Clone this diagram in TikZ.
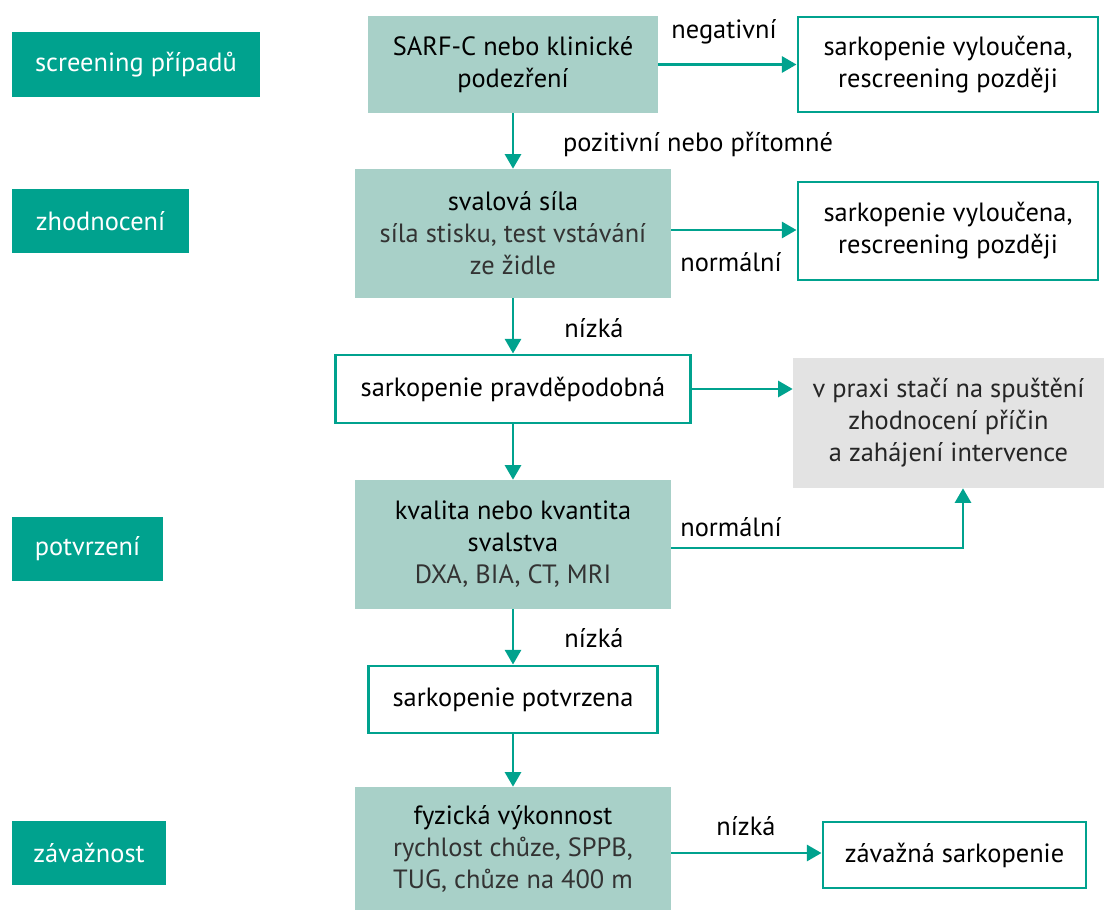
\documentclass[tikz,border=0pt]{standalone}
\usepackage{fontspec}
\setmainfont{PT Sans}
\usetikzlibrary{arrows.meta,positioning,calc}
\definecolor{teal1}{HTML}{00A28E}
\definecolor{lteal}{HTML}{A8D0C8}
\definecolor{lgray}{HTML}{E3E3E3}
\tikzset{
  txt/.style={font=\fontsize{19.8}{24}\selectfont, align=center, inner sep=0pt},
  lab/.style={txt, fill=teal1, text=white},
  mainbox/.style={txt, fill=lteal, text=black},
  outbox/.style={txt, draw=teal1, line width=2.2pt, fill=white, text=black},
  graybox/.style={txt, fill=lgray, text=black!85},
  conn/.style={draw=teal1, line width=2.2pt, -{Triangle[length=11pt,width=12pt]}},
  elab/.style={txt, text=black}
}
\begin{document}
\begin{tikzpicture}[x=0.75pt,y=-0.75pt]
\useasboundingbox (0,0) rectangle (1104,910);
% left labels
\node[lab, minimum width=248*0.75pt, minimum height=65*0.75pt] (l1) at (136,64.5) {screening případů};
\node[lab, minimum width=177*0.75pt, minimum height=64*0.75pt] (l2) at (100.5,221) {zhodnocení};
\node[lab, minimum width=151*0.75pt, minimum height=64*0.75pt] (l3) at (87.5,549) {potvrzení};
\node[lab, minimum width=154*0.75pt, minimum height=64*0.75pt] (l4) at (89,853) {závažnost};
% main column
\node[mainbox, minimum width=290*0.75pt, minimum height=97*0.75pt] (sarf) at (513,64.5) {SARF-C nebo klinické\\podezření};
\node[mainbox, minimum width=316*0.75pt, minimum height=129*0.75pt] (sval) at (513,233.5) {svalová síla\\{\color{black!80}síla stisku, test vstávání}\\{\color{black!80}ze židle}};
\node[outbox, minimum width=355*0.75pt, minimum height=68*0.75pt] (prav) at (513,389) {sarkopenie pravděpodobná};
\node[mainbox, minimum width=316*0.75pt, minimum height=129*0.75pt] (kval) at (513,544.5) {kvalita nebo kvantita\\svalstva\\{\color{black!80}DXA, BIA, CT, MRI}};
\node[outbox, minimum width=289*0.75pt, minimum height=67*0.75pt] (potv) at (513,699.5) {sarkopenie potvrzena};
\node[mainbox, minimum width=316*0.75pt, minimum height=123*0.75pt] (fyz) at (513,848.5) {fyzická výkonnost\\{\color{black!80}rychlost chůze, SPPB,}\\{\color{black!80}TUG, chůze na 400 m}};
% right column
\node[outbox, minimum width=300*0.75pt, minimum height=95*0.75pt] (ex1) at (948,64.5) {sarkopenie vyloučena,\\rescreening později};
\node[outbox, minimum width=300*0.75pt, minimum height=98*0.75pt] (ex2) at (948,231) {sarkopenie vyloučena,\\rescreening později};
\node[graybox, minimum width=311*0.75pt, minimum height=130*0.75pt] (gray) at (948.5,423) {v praxi stačí na spuštění\\zhodnocení příčin\\a zahájení intervence};
\node[outbox, minimum width=263*0.75pt, minimum height=66*0.75pt] (sev) at (954.5,855) {závažná sarkopenie};
% connectors
\draw[conn] (sarf.east) -- (ex1.west);
\draw[conn] (sarf.south) -- (sval.north);
\draw[conn] (sval.east |- 0,230) -- (ex2.west |- 0,230);
\draw[conn] (sval.south) -- (prav.north);
\draw[conn] (prav.east) -- (prav.east -| gray.west);
\draw[conn] (prav.south) -- (kval.north);
\coordinate (gin) at ($(gray.south)+(14.5,0)$);
\draw[conn] (kval.east |- 0,548) -| (gin);
\draw[conn] (kval.south) -- (potv.north);
\draw[conn] (potv.south) -- (fyz.north);
\draw[conn] (fyz.east |- 0,853) -- (sev.west |- 0,853);
% edge labels
\node[elab] (t1) at (724,32) {negativní};
\node[elab] (t2) at (698,144) {pozitivní nebo přítomné};
\node[elab] (t3) at (731,262) {normální};
\node[elab] (t4) at (594,328) {nízká};
\node[elab] (t5) at (731,527) {normální};
\node[elab] (t6) at (594,638) {nízká};
\node[elab] (t7) at (746,826) {nízká};
\end{tikzpicture}
\end{document}
